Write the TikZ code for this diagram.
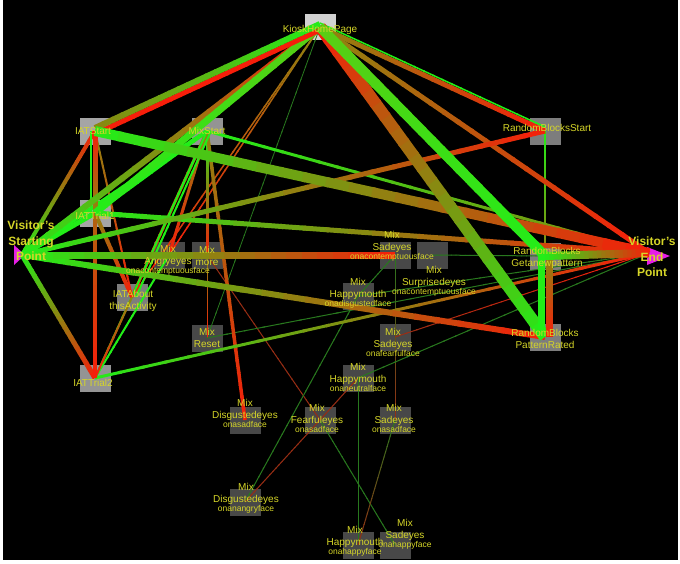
\documentclass[tikz,border=0pt]{standalone}
\usepackage{fontspec}
\setmainfont{Liberation Sans}
\usepackage{tikz}
\usetikzlibrary{calc}
\definecolor{FlowGreen}{RGB}{34,238,24}
\definecolor{FlowLime}{RGB}{90,205,20}
\definecolor{FlowOlive}{RGB}{140,134,16}
\definecolor{FlowRed}{RGB}{246,30,10}
\definecolor{ThinGreen}{RGB}{40,120,30}
\definecolor{ThinRed}{RGB}{150,45,20}
\definecolor{LabelYellow}{RGB}{214,214,40}
\definecolor{EndMagenta}{RGB}{230,30,230}
\definecolor{BoxLight}{RGB}{210,210,210}
\definecolor{BoxIAT}{RGB}{165,165,165}
\definecolor{BoxMid}{RGB}{125,125,125}
\definecolor{BoxMix}{RGB}{72,72,72}

\tikzset{
  statebox/.style={rectangle,inner sep=0pt,minimum width=31pt,minimum height=27pt},
  statelabel/.style={text=LabelYellow,font=\fontsize{10}{12}\selectfont,align=center,inner sep=0pt},
  endlabel/.style={text=LabelYellow,font=\bfseries\fontsize{12}{15.5}\selectfont,align=center,inner sep=0pt}
}
% one flow: [offset]{from}{to}{width}{colour at from}{colour at to}
\newcommand{\flow}[6][0,0]{%
  \foreach \k in {0,...,23}{%
    \pgfmathsetmacro{\ta}{\k/24}%
    \pgfmathsetmacro{\tb}{min(1,(\k+1.15)/24)}%
    \pgfmathtruncatemacro{\mixp}{100-100*(\k+0.5)/24}%
    \draw[line width=#4pt,color=#5!\mixp!#6] ($(#2)!\ta!(#3)+(#1)$) -- ($(#2)!\tb!(#3)+(#1)$);
  }%
}
\newcommand{\facetxt}[1]{{\fontsize{8.5}{9}\selectfont #1}}

\begin{document}
\begin{tikzpicture}[x=1pt,y=-1pt]
  \fill[white] (0,0) rectangle (680,563);
  \useasboundingbox (0,0) rectangle (680,563);
  \fill[black] (3,0) rectangle (678,560);

  % boxes
  \node[statebox,fill=BoxLight,minimum height=26pt] (kiosk) at (320,27) {};
  \node[statebox,fill=BoxIAT] (iatstart) at (95,131) {};
  \node[statebox,fill=BoxIAT!90!black] (mixstart) at (207,131) {};
  \node[statebox,fill=BoxMid] (rbstart) at (545,131) {};
  \node[statebox,fill=BoxIAT] (iattrial1) at (95,213) {};
  \node[statebox,fill=BoxIAT!90!black] (iattrial2) at (95,378) {};
  \node[statebox,fill=BoxMid] (iatabout) at (132,297) {};
  \node[statebox,fill=BoxMix] (angry) at (169,255) {};
  \node[statebox,fill=BoxMix] (more) at (207,255) {};
  \node[statebox,fill=BoxMix] (reset) at (207,338) {};
  \node[statebox,fill=BoxMix] (sadcont) at (395,255) {};
  \node[statebox,fill=BoxMix] (surpcont) at (432,255) {};
  \node[statebox,fill=BoxMix] (happydisg) at (358,296) {};
  \node[statebox,fill=BoxMix] (sadfear) at (395,337) {};
  \node[statebox,fill=BoxMix] (happyneut) at (358,378) {};
  \node[statebox,fill=BoxMid] (rbnew) at (545,256) {};
  \node[statebox,fill=BoxMid] (rbrated) at (545,337) {};
  \node[statebox,fill=BoxMix] (disgsad) at (245,420) {};
  \node[statebox,fill=BoxMix] (fearsad) at (320,420) {};
  \node[statebox,fill=BoxMix] (sadsad) at (395,420) {};
  \node[statebox,fill=BoxMix] (disgangry) at (245,502) {};
  \node[statebox,fill=BoxMix] (happyhappy) at (358,545) {};
  \node[statebox,fill=BoxMix] (sadhappy) at (395,545) {};
  \coordinate (start) at (22,255);
  \coordinate (finish) at (649,253);
  \fill[EndMagenta] ($(start)+(-8,-10)$) -- ($(start)+(3,0)$) -- ($(start)+(-8,10)$) -- cycle;
  \fill[EndMagenta] ($(finish)+(-2,-6)$) -- ($(finish)+(21,3)$) -- ($(finish)+(-2,12)$) -- cycle;

  % thin flows
  \flow{kiosk}{reset}{0.8}{ThinGreen}{ThinGreen}
  \flow{kiosk}{angry}{1.5}{FlowOlive}{FlowRed}
  \flow{kiosk}{iatabout}{1.5}{FlowOlive}{FlowRed}
  \flow{more}{reset}{1}{FlowOlive}{FlowRed}
  \flow{more}{fearsad}{1}{ThinRed}{ThinRed}
  \flow{fearsad}{sadhappy}{1}{ThinGreen}{ThinGreen}
  \flow{sadcont}{happydisg}{1}{ThinGreen}{ThinGreen}
  \flow{sadcont}{sadsad}{1}{ThinGreen}{ThinRed}
  \flow{happydisg}{disgangry}{1}{ThinGreen}{ThinGreen}
  \flow{fearsad}{disgangry}{1}{ThinRed}{ThinRed}
  \flow{happyneut}{fearsad}{1}{ThinRed}{ThinRed}
  \flow{happyneut}{happyhappy}{1}{ThinGreen}{ThinGreen}
  \flow{sadsad}{happyhappy}{1}{ThinGreen}{ThinRed}
  \flow{happyneut}{finish}{1}{ThinGreen}{ThinGreen}
  \flow{happydisg}{finish}{1}{ThinGreen}{ThinGreen}
  \flow{reset}{finish}{1}{ThinGreen}{ThinGreen}
  \flow{sadfear}{finish}{1}{ThinRed}{FlowRed}
  \flow{surpcont}{rbnew}{1}{ThinGreen}{ThinGreen}

  % medium flows
  \flow{mixstart}{angry}{3}{FlowOlive}{FlowRed}
  \flow{mixstart}{more}{3}{FlowGreen}{FlowRed}
  \flow{mixstart}{disgsad}{3.5}{FlowOlive}{FlowRed}
  \flow{mixstart}{iatabout}{3}{FlowOlive}{FlowRed}
  \flow[4,0]{iatabout}{mixstart}{2}{FlowGreen}{FlowGreen}
  \flow{mixstart}{iattrial2}{2}{FlowGreen}{FlowGreen}
  \flow{iattrial2}{angry}{2}{FlowGreen}{FlowGreen}
  \flow{iatabout}{iattrial2}{2}{FlowOlive}{FlowRed}
  \flow{iatstart}{iatabout}{2}{FlowOlive}{FlowRed}
  \flow{iattrial1}{iatabout}{4}{FlowOlive}{FlowRed}
  \flow{mixstart}{finish}{3}{FlowGreen}{FlowOlive}
  \flow{iattrial2}{finish}{3}{FlowGreen}{FlowRed}
  \flow{rbstart}{rbnew}{1.5}{FlowGreen}{FlowOlive}
  \flow{kiosk}{rbstart}{5}{FlowOlive}{FlowRed}
  \flow[0,-4]{kiosk}{rbstart}{1.5}{FlowGreen}{FlowGreen}
  \flow{kiosk}{finish}{5}{FlowOlive}{FlowRed}
  \flow{start}{iatstart}{4}{FlowGreen}{FlowRed}
  \flow{start}{mixstart}{4}{FlowGreen}{FlowGreen}
  \flow{start}{iattrial1}{5}{FlowGreen}{FlowGreen}
  \flow{start}{iattrial2}{5}{FlowGreen}{FlowRed}
  \flow{iattrial1}{mixstart}{4}{FlowGreen}{FlowGreen}
  \flow{iatstart}{iattrial2}{4}{FlowOlive}{FlowRed}
  \flow{iatstart}{iattrial1}{5}{FlowRed}{FlowOlive}
  \flow[-4,0]{iatstart}{iattrial1}{2}{FlowGreen}{FlowGreen}

  % thick flows
  \flow{iattrial1}{finish}{5}{FlowGreen}{FlowRed}
  \flow{start}{rbstart}{5}{FlowGreen}{FlowRed}
  \flow{start}{rbrated}{6}{FlowGreen}{FlowRed}
  \flow{start}{sadcont}{7}{FlowGreen}{FlowRed}
  \flow{start}{kiosk}{6}{FlowGreen}{FlowRed}
  \flow{iattrial1}{kiosk}{7}{FlowGreen}{FlowLime}
  \flow[0,3]{iatstart}{kiosk}{5}{FlowRed}{FlowRed}
  \flow[0,-3]{kiosk}{iatstart}{6}{FlowGreen}{FlowOlive}
  \flow{iatstart}{finish}{10}{FlowGreen}{FlowRed}
  \flow{rbrated}{kiosk}{12}{FlowGreen}{FlowRed}
  \flow{rbnew}{kiosk}{10}{FlowGreen}{FlowLime}
  \flow[-4,0]{rbnew}{rbrated}{7}{FlowGreen}{FlowGreen}
  \flow[4,0]{rbrated}{rbnew}{7}{FlowRed}{FlowOlive}
  \flow{rbnew}{finish}{8}{FlowGreen}{FlowRed}

  % labels
  \node[statelabel] (kiosk-t) at (320,30) {KioskHomePage};
  \node[statelabel] (iatstart-t) at (93,131) {IATStart};
  \node[statelabel] (mixstart-t) at (207,131) {MixStart};
  \node[statelabel] (rbstart-t) at (547,128) {RandomBlocksStart};
  \node[statelabel] (iattrial1-t) at (95,216) {IATTrial1};
  \node[statelabel] (iattrial2-t) at (93,383) {IATTrial2};
  \node[statelabel] (iatabout-t) at (133,300.5) {IATAbout\\thisActivity};
  \node[statelabel] (angry-t) at (168,260) {Mix\\Angryeyes\\[-3pt]\facetxt{onacontemptuousface}};
  \node[statelabel] (more-t) at (207,255.5) {Mix\\more};
  \node[statelabel] (reset-t) at (207,338) {Mix\\Reset};
  \node[statelabel] (sadcont-t) at (392,246) {Mix\\Sadeyes\\[-3pt]\facetxt{onacontemptuousface}};
  \node[statelabel] (surpcont-t) at (434,281) {Mix\\Surprisedeyes\\[-3pt]\facetxt{onacontemptuousface}};
  \node[statelabel] (happydisg-t) at (358,293) {Mix\\Happymouth\\[-3pt]\facetxt{onadisgustedface}};
  \node[statelabel] (sadfear-t) at (393,342) {Mix\\Sadeyes\\[-3pt]\facetxt{onafearfulface}};
  \node[statelabel] (happyneut-t) at (358,377) {Mix\\Happymouth\\[-3pt]\facetxt{onaneutralface}};
  \node[statelabel] (rbnew-t) at (547,257.5) {RandomBlocks\\Getanewpattern};
  \node[statelabel] (rbrated-t) at (545,338.5) {RandomBlocks\\PatternRated};
  \node[statelabel] (disgsad-t) at (245,413) {Mix\\Disgustedeyes\\[-3pt]\facetxt{onasadface}};
  \node[statelabel] (fearsad-t) at (317,418) {Mix\\Fearfuleyes\\[-3pt]\facetxt{onasadface}};
  \node[statelabel] (sadsad-t) at (394,418) {Mix\\Sadeyes\\[-3pt]\facetxt{onasadface}};
  \node[statelabel] (disgangry-t) at (246,498) {Mix\\Disgustedeyes\\[-3pt]\facetxt{onanangryface}};
  \node[statelabel] (happyhappy-t) at (355,541) {Mix\\Happymouth\\[-3pt]\facetxt{onahappyface}};
  \node[statelabel] (sadhappy-t) at (405,534) {Mix\\Sadeyes\\[-3pt]\facetxt{onahappyface}};
  \node[endlabel] (start-t) at (31,241) {Visitor's\\Starting\\Point};
  \node[endlabel] (finish-t) at (652,257) {Visitor's\\End\\Point};
\end{tikzpicture}
\end{document}
